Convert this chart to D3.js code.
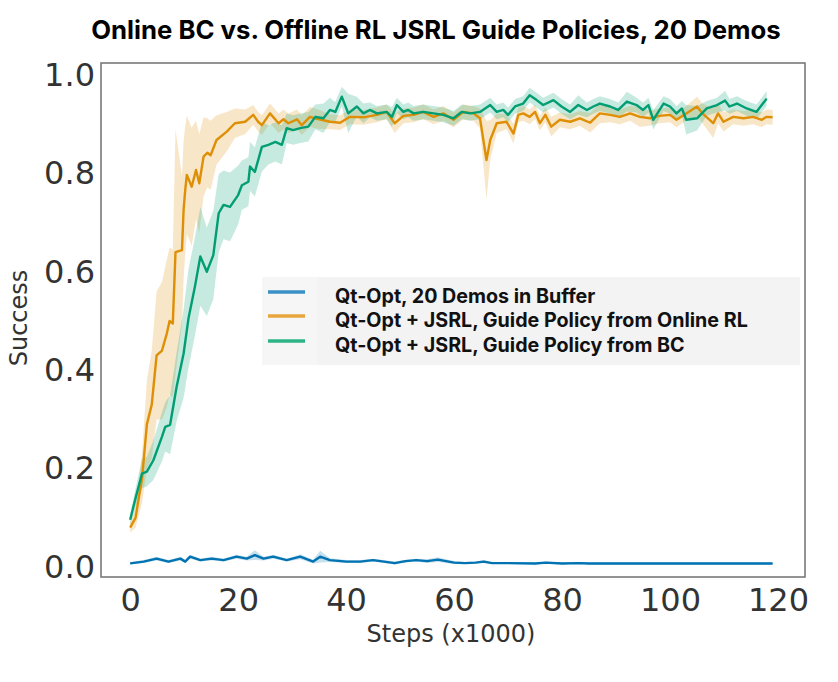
<!DOCTYPE html>
<html><head><meta charset="utf-8">
<script src="https://cdn.jsdelivr.net/npm/d3@7"></script>
<style>body{margin:0;background:#fff}</style>
</head><body><svg id="c" width="838" height="682"></svg>
<script>
const chartTitle = "Online BC vs. Offline RL JSRL Guide Policies, 20 Demos";
const xLabel = "Steps (x1000)";
const yLabel = "Success";
const xTicks = [0, 20, 40, 60, 80, 100, 120];
const yTicks = [0, 0.2, 0.4, 0.6, 0.8, 1.0];
const seriesNames = [
  "Qt-Opt, 20 Demos in Buffer",
  "Qt-Opt + JSRL, Guide Policy from Online RL",
  "Qt-Opt + JSRL, Guide Policy from BC"
];
const seriesColors = ["#0173b2", "#de8f05", "#029e73"];
const legendColors = ["#3a8fc6", "#e9a63f", "#2db487"];

// [step (x1000), mean success, spread]
const bufferOnly = [
  [0,0.0075,0.002],[2.5,0.011,0.003],[4.9,0.017,0.004],[7.1,0.011,0.003],[9.3,0.017,0.004],
  [10.2,0.011,0.003],[11.1,0.021,0.004],[13,0.014,0.003],[15.1,0.017,0.004],[17.3,0.014,0.003],
  [19.7,0.021,0.004],[21.6,0.017,0.004],[23.1,0.024,0.01],[24.7,0.017,0.004],[26.5,0.021,0.004],
  [29,0.014,0.003],[31.5,0.021,0.005],[33.9,0.011,0.004],[35.2,0.021,0.012],[37,0.014,0.004],
  [40.1,0.011,0.003],[42.6,0.011,0.003],[45,0.014,0.003],[47,0.011,0.003],[49,0.008,0.003],
  [51,0.012,0.003],[53,0.014,0.003],[55,0.012,0.004],[57,0.015,0.005],[58.5,0.012,0.004],
  [60,0.009,0.003],[62,0.008,0.002],[64,0.009,0.002],[65.5,0.011,0.003],[67,0.008,0.002],
  [70,0.008,0.002],[75,0.007,0.002],[77,0.009,0.002],[80,0.007,0.002],[83,0.008,0.002],
  [85,0.007,0.002],[90,0.007,0.002],[100,0.007,0.002],[110,0.007,0.002],[119,0.007,0.002]
];
const onlineRL = [
  [0,0.08,0.01],[1,0.10,0.02],[2.2,0.18,0.05],[3.1,0.29,0.09],[4,0.33,0.11],[4.9,0.43,0.13],
  [5.9,0.44,0.14],[6.8,0.475,0.15],[7.3,0.50,0.15],[7.9,0.495,0.15],[8.4,0.64,0.25],[9.6,0.644,0.15],
  [9.9,0.726,0.14],[10.2,0.766,0.13],[10.5,0.797,0.12],[11.4,0.773,0.12],[12.2,0.807,0.1],[12.8,0.78,0.1],
  [13.6,0.834,0.08],[14.3,0.842,0.07],[14.9,0.837,0.07],[16,0.868,0.05],[17.9,0.885,0.04],[19.4,0.902,0.03],
  [21.3,0.905,0.025],[22.8,0.919,0.02],[23.7,0.905,0.02],[24.4,0.898,0.02],[25.9,0.922,0.02],[27.5,0.902,0.02],
  [28.4,0.91,0.02],[29.3,0.902,0.02],[30.9,0.91,0.02],[31.8,0.898,0.02],[33.3,0.915,0.02],[34.6,0.911,0.02],
  [37,0.905,0.015],[38.9,0.903,0.015],[40.7,0.915,0.015],[43.2,0.914,0.015],[45.7,0.919,0.015],[47.5,0.925,0.015],
  [49,0.902,0.02],[50.6,0.917,0.015],[52.5,0.919,0.015],[54.3,0.925,0.015],[56.2,0.915,0.015],[58,0.922,0.015],
  [59.9,0.909,0.015],[61.7,0.925,0.015],[63.6,0.922,0.015],[64.8,0.912,0.02],[66,0.827,0.08],[66.7,0.868,0.04],
  [67.9,0.902,0.02],[69.7,0.905,0.015],[71,0.881,0.02],[71.9,0.919,0.015],[72.8,0.922,0.015],[74,0.915,0.015],
  [75,0.925,0.015],[75.9,0.902,0.015],[76.9,0.919,0.015],[78,0.895,0.02],[79.6,0.909,0.015],[81.5,0.905,0.015],
  [83.3,0.912,0.015],[85.2,0.903,0.02],[87,0.922,0.02],[88.9,0.919,0.015],[90.7,0.915,0.015],[92.6,0.922,0.015],
  [94.4,0.915,0.02],[96.3,0.912,0.015],[98,0.917,0.015],[100,0.919,0.015],[101.2,0.909,0.015],[103,0.922,0.015],
  [105,0.936,0.02],[106,0.922,0.02],[108,0.902,0.03],[108.9,0.922,0.02],[109.9,0.905,0.02],[111.7,0.915,0.015],
  [113.6,0.912,0.015],[115.4,0.915,0.015],[117,0.909,0.015],[117.9,0.915,0.015],[119,0.914,0.015]
];
const fromBC = [
  [0,0.096,0.01],[1,0.14,0.02],[2.2,0.19,0.03],[3.1,0.194,0.03],[4.3,0.217,0.04],[5.9,0.265,0.05],
  [6.5,0.285,0.05],[7.4,0.289,0.06],[8.6,0.366,0.07],[9.9,0.434,0.09],[10.8,0.505,0.1],[12,0.57,0.1],
  [13,0.631,0.1],[14.2,0.60,0.09],[15.4,0.634,0.09],[16.4,0.719,0.08],[17.3,0.736,0.07],[18.5,0.732,0.07],
  [20,0.756,0.06],[20.7,0.776,0.05],[21.9,0.783,0.05],[22.2,0.814,0.05],[23.1,0.803,0.05],[24.4,0.854,0.05],
  [25.6,0.858,0.04],[26.9,0.864,0.04],[28.1,0.858,0.04],[29,0.892,0.03],[30.2,0.888,0.03],[31.5,0.892,0.03],
  [33,0.895,0.03],[34.3,0.915,0.025],[35.8,0.912,0.03],[37,0.929,0.025],[38,0.925,0.02],[39.2,0.956,0.02],
  [40.4,0.922,0.04],[42,0.936,0.02],[43.2,0.922,0.02],[44.4,0.929,0.015],[45.7,0.922,0.015],[47.5,0.925,0.015],
  [48.5,0.915,0.02],[49.4,0.939,0.015],[50.6,0.925,0.015],[51.5,0.929,0.015],[52.5,0.922,0.015],[54.3,0.925,0.015],
  [56.2,0.922,0.015],[58,0.919,0.015],[59.9,0.912,0.015],[61.4,0.925,0.015],[63,0.922,0.015],[64.8,0.925,0.015],
  [66.7,0.939,0.015],[67.9,0.925,0.015],[69.1,0.929,0.015],[70,0.919,0.015],[71.3,0.936,0.015],[72.8,0.942,0.015],
  [74,0.959,0.015],[75.3,0.949,0.015],[76.5,0.939,0.015],[78.4,0.949,0.015],[79.9,0.936,0.015],[81.5,0.925,0.015],
  [83,0.939,0.02],[84.6,0.929,0.015],[85.8,0.936,0.015],[87,0.942,0.015],[88.9,0.936,0.015],[90.4,0.929,0.015],
  [92,0.946,0.02],[93.8,0.939,0.015],[95,0.929,0.015],[96,0.939,0.015],[96.9,0.909,0.02],[98.8,0.942,0.015],
  [100,0.936,0.015],[101.2,0.922,0.015],[102.2,0.932,0.015],[103,0.909,0.03],[105,0.912,0.025],[106.8,0.932,0.015],
  [108.7,0.939,0.015],[110.2,0.948,0.02],[111,0.936,0.015],[112.4,0.942,0.015],[114.2,0.932,0.015],[116,0.925,0.015],
  [117.9,0.952,0.015]
];
const allSeries = [bufferOnly, onlineRL, fromBC];

const svg = d3.select("#c");
const frame = {l: 101, r: 805, t: 63, b: 577};
const x = d3.scaleLinear().domain([-5.4, 125]).range([frame.l, frame.r]);
const y = d3.scaleLinear().domain([-0.0203, 1.0244]).range([frame.b, frame.t]);

// bands and lines
const area = d3.area().x(d => x(d[0])).y0(d => y(d[1] - d[2])).y1(d => y(d[1] + d[2]));
const line = d3.line().x(d => x(d[0])).y(d => y(d[1]));
const g = svg.append("g");
allSeries.forEach((s, i) => {
  g.append("path").attr("d", area(s)).attr("fill", seriesColors[i]).attr("fill-opacity", 0.22).attr("stroke", "none");
});
allSeries.forEach((s, i) => {
  g.append("path").attr("d", line(s)).attr("fill", "none").attr("stroke", seriesColors[i])
    .attr("stroke-width", 2.4).attr("stroke-linejoin", "round");
});

// frame
svg.append("rect").attr("x", frame.l).attr("y", frame.t).attr("width", frame.r - frame.l)
  .attr("height", frame.b - frame.t).attr("fill", "none").attr("stroke", "#707070").attr("stroke-width", 1.5);

// axes
const xa = svg.append("g").attr("transform", `translate(0,${frame.b})`)
  .call(d3.axisBottom(x).tickValues(xTicks).tickFormat(d3.format("d")).tickSize(0).tickPadding(11));
const ya = svg.append("g").attr("transform", `translate(${frame.l},0)`)
  .call(d3.axisLeft(y).tickValues(yTicks).tickFormat(d3.format(".1f")).tickSize(0).tickPadding(6));
[xa, ya].forEach(a => {
  a.select(".domain").remove();
  a.selectAll("text").attr("font-family", "DejaVu Sans").attr("font-size", 32).attr("fill", "#333");
});

svg.append("text").attr("x", 451).attr("y", 642).attr("text-anchor", "middle")
  .attr("font-family", "DejaVu Sans").attr("font-size", 24).attr("fill", "#333").text(xLabel);
svg.append("text").attr("transform", "translate(27,318) rotate(-90)").attr("text-anchor", "middle")
  .attr("font-family", "DejaVu Sans").attr("font-size", 24).attr("fill", "#333").text(yLabel);

// title
const t = svg.append("text").attr("x", 436).attr("y", 39).attr("text-anchor", "middle")
  .attr("font-family", "Inter, 'Noto Sans', sans-serif").attr("font-weight", 700).attr("font-size", 21)
  .attr("fill", "#000").text(chartTitle);
const tw = t.node().getComputedTextLength();
t.attr("font-size", 21 * 690 / tw);

// legend
const lg = svg.append("g");
lg.append("rect").attr("x", 262).attr("y", 277).attr("width", 538).attr("height", 88).attr("fill", "#f3f3f3");
lg.append("rect").attr("x", 262).attr("y", 277).attr("width", 55).attr("height", 88).attr("fill", "#f6f6f6");
const rows = [292, 316, 341];
const legendTexts = [];
seriesNames.forEach((n, i) => {
  lg.append("line").attr("x1", 268).attr("x2", 305).attr("y1", rows[i]).attr("y2", rows[i])
    .attr("stroke", legendColors[i]).attr("stroke-width", 3.5);
  legendTexts.push(lg.append("text").attr("x", 335).attr("y", rows[i] + 11)
    .attr("font-family", "Inter, 'Noto Sans', sans-serif").attr("font-weight", 700).attr("font-size", 17)
    .attr("fill", "#111").text(n));
});
const lw = legendTexts[1].node().getComputedTextLength();
legendTexts.forEach(tt => tt.attr("font-size", 17 * 413 / lw));
</script></body></html>
